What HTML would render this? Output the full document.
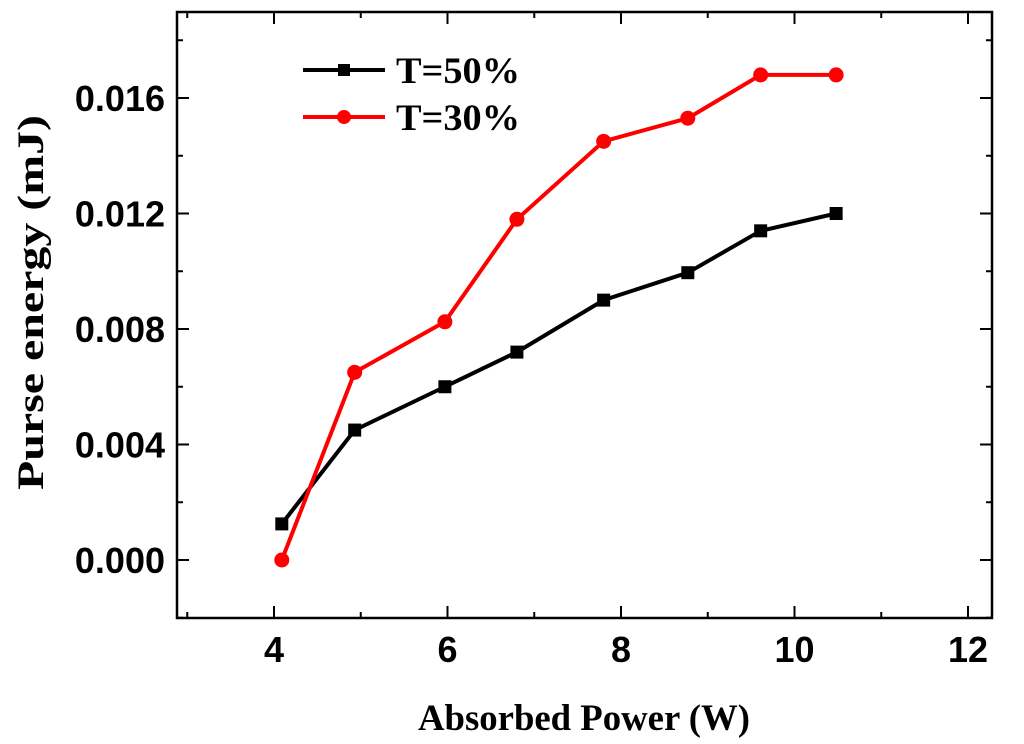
<!DOCTYPE html>
<html><head><meta charset="utf-8"><style>
body{margin:0;background:#fff}
svg{display:block}
.tk{font-family:"Liberation Sans",sans-serif;font-weight:bold;font-size:36px;fill:#000}
.ti{font-family:"Liberation Serif",serif;font-weight:bold;font-size:37px;fill:#000}
</style></head><body>
<svg id="chart" width="1024" height="744" viewBox="0 0 1024 744" xmlns="http://www.w3.org/2000/svg">
<rect x="177" y="12" width="815" height="606" fill="none" stroke="#000" stroke-width="2.5"/>
<g id="ticks"></g>
<g id="series"></g>
<text class="ti" x="418" y="730" textLength="332" lengthAdjust="spacingAndGlyphs">Absorbed Power (W)</text>
<text class="ti" transform="translate(43,490) rotate(-90)" textLength="375" lengthAdjust="spacingAndGlyphs">Purse energy (mJ)</text>
<g>
<line x1="303" y1="70" x2="385" y2="70" stroke="#000" stroke-width="4"/>
<rect x="338" y="64" width="12" height="12" fill="#000"/>
<text class="ti" x="396" y="83" textLength="124" lengthAdjust="spacingAndGlyphs">T=50%</text>
<line x1="303" y1="117" x2="385" y2="117" stroke="#ff0000" stroke-width="4"/>
<circle cx="344" cy="117" r="7" fill="#ff0000"/>
<text class="ti" x="396" y="130" textLength="124" lengthAdjust="spacingAndGlyphs">T=30%</text>
</g>
</svg>
<script>
const xs=[4.09,4.93,5.97,6.80,7.80,8.77,9.61,10.48];
const t50=[0.00125,0.0045,0.006,0.0072,0.009,0.00995,0.0114,0.0120];
const t30=[0.0,0.0065,0.00825,0.0118,0.0145,0.0153,0.0168,0.0168];
const xTicks=[4,6,8,10,12];
const yTicks=[0,0.004,0.008,0.012,0.016];
const yLabels=["0.000","0.004","0.008","0.012","0.016"];
const X=v=>274+(v-4)*86.75;
const Y=v=>560-v*28875;
const NS="http://www.w3.org/2000/svg";
function mk(tag,attrs,parent){const e=document.createElementNS(NS,tag);for(const k in attrs)e.setAttribute(k,attrs[k]);parent.appendChild(e);return e;}
const tg=document.getElementById('ticks');
for(let v=3;v<=12;v++){
  const major=v%2===0, L=major?12:6;
  const t=mk('line',{x1:X(v),x2:X(v),y1:618,y2:618-L,stroke:'#000','stroke-width':2},tg);
  
  
  mk('line',{x1:X(v),x2:X(v),y1:12,y2:12+L,stroke:'#000','stroke-width':2},tg);
}
xTicks.forEach(v=>{const t=mk('text',{x:X(v),y:662,'text-anchor':'middle',class:'tk'},tg);t.textContent=v;
  
  });
for(let i=-2;i<=18;i++){
  const v=i*0.001;const major=i%4===0;const L=major?12:6;const y=Y(v);if(y<12||y>618)continue;
  if(i%2!==0)continue;
  mk('line',{x1:177,x2:177+L,y1:y,y2:y,stroke:'#000','stroke-width':2},tg);
  mk('line',{x1:992,x2:992-L,y1:y,y2:y,stroke:'#000','stroke-width':2},tg);
}
yTicks.forEach((v,i)=>{const t=mk('text',{x:165,y:Y(v)+13,'text-anchor':'end',class:'tk'},tg);t.textContent=yLabels[i];
  
  });
const sg=document.getElementById('series');
function draw(vals,color,sq,name){
  const p=mk('polyline',{points:xs.map((x,i)=>X(x)+','+Y(vals[i])).join(' '),fill:'none',stroke:color,'stroke-width':4},sg);
  
  
  xs.forEach((x,i)=>{let m;
    if(sq)m=mk('rect',{x:X(x)-6.5,y:Y(vals[i])-6.5,width:13,height:13,fill:color},sg);
    else m=mk('circle',{cx:X(x),cy:Y(vals[i]),r:7.5,fill:color},sg);
    
    });
}
draw(t50,'#000',true,'t50');
draw(t30,'#ff0000',false,'t30');
</script>
</body></html>
